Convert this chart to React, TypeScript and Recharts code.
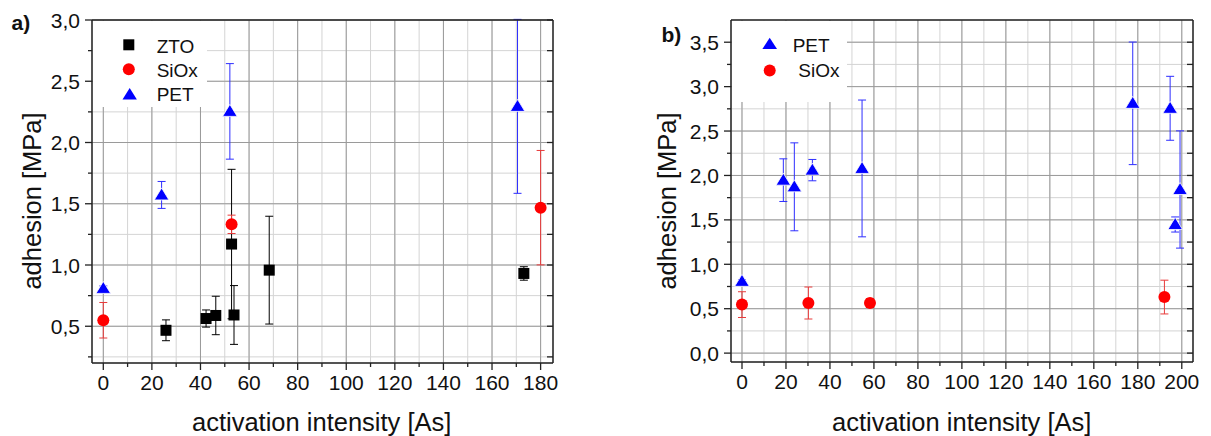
import React from "react";
import {
  ScatterChart,
  Scatter,
  XAxis,
  YAxis,
  CartesianGrid,
  ReferenceLine,
  ErrorBar,
} from "recharts";

const FONT = "'Liberation Sans', Arial, Helvetica, sans-serif";

// ---- panel a) values ----
const ztoX = [25.8, 42.3, 46.3, 52.8, 53.8, 68.3, 173.1];
const ztoY = [0.467, 0.563, 0.588, 1.171, 0.592, 0.958, 0.931];
const ztoErr = [0.085, 0.07, 0.157, 0.61, 0.24, 0.44, 0.055];

const siA_X = [0, 52.8, 180];
const siA_Y = [0.549, 1.332, 1.468];
const siA_Err = [0.145, 0.075, 0.467];

const petA_X = [0, 24.0, 52.1, 170.5];
const petA_Y = [0.809, 1.572, 2.254, 2.295];
const petA_Err = [0.02, 0.11, 0.39, 0.71];

// ---- panel b) ----
const petB_X = [0, 18.8, 23.8, 32.0, 54.6, 177.7, 194.7, 197.0, 199.2];
const petB_Y = [0.808, 1.947, 1.872, 2.06, 2.079, 2.812, 2.756, 1.448, 1.842];
const petB_Err = [0.02, 0.24, 0.495, 0.12, 0.77, 0.69, 0.36, 0.085, 0.66];

const siB_X = [0, 30.2, 58.2, 192.1];
const siB_Y = [0.546, 0.564, 0.564, 0.631];
const siB_Err = [0.145, 0.18, 0.05, 0.19];

// ticks
const xTicksA = [0, 10, 20, 30, 40, 50, 60, 70, 80, 90, 100, 110, 120, 130, 140, 150, 160, 170, 180];
const xMajorA = [0, 20, 40, 60, 80, 100, 120, 140, 160, 180];
const yTicksA = [0.25, 0.5, 0.75, 1.0, 1.25, 1.5, 1.75, 2.0, 2.25, 2.5, 2.75, 3.0];
const yMajorA = [0.5, 1.0, 1.5, 2.0, 2.5, 3.0];

const xTicksB = [0, 10, 20, 30, 40, 50, 60, 70, 80, 90, 100, 110, 120, 130, 140, 150, 160, 170, 180, 190, 200];
const xMajorB = [0, 20, 40, 60, 80, 100, 120, 140, 160, 180, 200];
const yTicksB = [0, 0.25, 0.5, 0.75, 1.0, 1.25, 1.5, 1.75, 2.0, 2.25, 2.5, 2.75, 3.0, 3.25, 3.5];
const yMajorB = [0, 0.5, 1.0, 1.5, 2.0, 2.5, 3.0, 3.5];

const zip = (xs: number[], ys: number[], es: number[]) =>
  xs.map((x, i) => ({ x, y: ys[i], err: es[i] }));

const AXIS = { stroke: "#222", strokeWidth: 1.5 };
const MINOR_GRID = "#d4d4d4";
const MAJOR_GRID = "#9a9a9a";

const isIn = (list: number[], v: number) => list.some((m) => Math.abs(m - v) < 1e-6);
const comma = (v: number) => v.toFixed(1).replace(".", ",");

function bottomTick(majors: number[]) {
  return (p: any) => {
    const v = p.payload.value;
    const major = isIn(majors, v);
    return (
      <g>
        <line x1={p.x} x2={p.x} y1={p.y} y2={p.y + (major ? 7 : 4)} stroke="#222" strokeWidth={1.3} />
        {major && (
          <text x={p.x} y={p.y + 27} textAnchor="middle" fontSize={21} fontFamily={FONT} fill="#111">
            {v}
          </text>
        )}
      </g>
    );
  };
}

function leftTick(majors: number[]) {
  return (p: any) => {
    const v = p.payload.value;
    const major = isIn(majors, v);
    return (
      <g>
        <line x1={p.x} x2={p.x - (major ? 7 : 4)} y1={p.y} y2={p.y} stroke="#222" strokeWidth={1.3} />
        {major && (
          <text x={p.x - 12} y={p.y + 7.5} textAnchor="end" fontSize={21} fontFamily={FONT} fill="#111">
            {comma(v)}
          </text>
        )}
      </g>
    );
  };
}

function topTick(majors: number[]) {
  return (p: any) => {
    const major = isIn(majors, p.payload.value);
    return <line x1={p.x} x2={p.x} y1={p.y} y2={p.y + (major ? 6 : 3)} stroke="#222" strokeWidth={1.3} />;
  };
}

const rightTick = (p: any) => (
  <line x1={p.x} x2={p.x - 6} y1={p.y} y2={p.y} stroke="#222" strokeWidth={1.3} />
);

const Square = (p: any) => <rect x={p.cx - 5.5} y={p.cy - 5.5} width={11} height={11} fill="#000" />;
const Dot = (p: any) => <circle cx={p.cx} cy={p.cy} r={6} fill="#ff0000" />;
const Tri = (p: any) => (
  <polygon
    points={`${p.cx},${p.cy - 7} ${p.cx + 7.3},${p.cy + 5} ${p.cx - 7.3},${p.cy + 5}`}
    fill="#0000ff"
    stroke="#fff"
    strokeWidth={0.8}
  />
);

function Frame({
  xDomain,
  yDomain,
  xTicks,
  xMajor,
  yTicks,
  yMajor,
}: {
  xDomain: [number, number];
  yDomain: [number, number];
  xTicks: number[];
  xMajor: number[];
  yTicks: number[];
  yMajor: number[];
}) {
  return null;
}

function axes(
  xDomain: [number, number],
  yDomain: [number, number],
  xTicks: number[],
  xMajor: number[],
  yTicks: number[],
  yMajor: number[],
) {
  return [
    <CartesianGrid key="grid" stroke={MINOR_GRID} strokeWidth={1} />,
    ...xMajor.map((v) => (
      <ReferenceLine key={"vx" + v} x={v} stroke={MAJOR_GRID} strokeWidth={1} />
    )),
    ...yMajor.map((v) => (
      <ReferenceLine key={"hy" + v} y={v} stroke={MAJOR_GRID} strokeWidth={1} />
    )),
    <XAxis
      key="xb"
      dataKey="x"
      type="number"
      domain={xDomain}
      ticks={xTicks}
      interval={0}
      allowDataOverflow
      height={40}
      axisLine={AXIS}
      tickLine={false}
      tickSize={0}
      tickMargin={0}
      tick={bottomTick(xMajor)}
    />,
    <XAxis
      key="xt"
      xAxisId="t"
      orientation="top"
      type="number"
      domain={xDomain}
      ticks={xTicks}
      interval={0}
      allowDataOverflow
      height={5}
      axisLine={AXIS}
      tickLine={false}
      tickSize={0}
      tickMargin={0}
      tick={topTick(xMajor)}
    />,
    <YAxis
      key="yl"
      dataKey="y"
      type="number"
      domain={yDomain}
      ticks={yTicks}
      interval={0}
      allowDataOverflow
      width={60}
      axisLine={AXIS}
      tickLine={false}
      tickSize={0}
      tickMargin={0}
      tick={leftTick(yMajor)}
    />,
    <YAxis
      key="yr"
      yAxisId="r"
      orientation="right"
      type="number"
      domain={yDomain}
      ticks={yTicks}
      interval={0}
      allowDataOverflow
      width={10}
      axisLine={AXIS}
      tickLine={false}
      tickSize={0}
      tickMargin={0}
      tick={rightTick}
    />,
  ];
}

function PanelA() {
  return (
    <ScatterChart width={600} height={436} margin={{ top: 15, right: 37, bottom: 33, left: 32 }}>
      {axes([-4.65, 185.1], [0.2, 3.0], xTicksA, xMajorA, yTicksA, yMajorA)}
      <Scatter name="ZTO" data={zip(ztoX, ztoY, ztoErr)} shape={Square} isAnimationActive={false}>
        <ErrorBar dataKey="err" direction="y" width={4} stroke="#000" strokeWidth={1} />
      </Scatter>
      <Scatter name="SiOx" data={zip(siA_X, siA_Y, siA_Err)} shape={Dot} isAnimationActive={false}>
        <ErrorBar dataKey="err" direction="y" width={4} stroke="#e83a3a" strokeWidth={1} />
      </Scatter>
      <Scatter name="PET" data={zip(petA_X, petA_Y, petA_Err)} shape={Tri} isAnimationActive={false}>
        <ErrorBar dataKey="err" direction="y" width={4} stroke="#2e2eff" strokeWidth={1} />
      </Scatter>
    </ScatterChart>
  );
}

function PanelB() {
  return (
    <ScatterChart width={591} height={436} margin={{ top: 15, right: 8, bottom: 34, left: 51 }}>
      {axes([-5, 205.1], [-0.1, 3.75], xTicksB, xMajorB, yTicksB, yMajorB)}
      <Scatter name="SiOx" data={zip(siB_X, siB_Y, siB_Err)} shape={Dot} isAnimationActive={false}>
        <ErrorBar dataKey="err" direction="y" width={4} stroke="#e83a3a" strokeWidth={1} />
      </Scatter>
      <Scatter name="PET" data={zip(petB_X, petB_Y, petB_Err)} shape={Tri} isAnimationActive={false}>
        <ErrorBar dataKey="err" direction="y" width={4} stroke="#2e2eff" strokeWidth={1} />
      </Scatter>
    </ScatterChart>
  );
}

const txt = { fontFamily: FONT, fill: "#111" };

function Overlay() {
  return (
    <svg width={1211} height={436} style={{ position: "absolute", left: 0, top: 0, pointerEvents: "none" }}>
      {/* legend a */}
      <rect x={93} y={21} width={114} height={86} fill="#fff" />
      <rect x={123.3} y={39.3} width={11} height={11} fill="#000" />
      <text x={156.7} y={52.7} fontSize={19} {...txt}>ZTO</text>
      <circle cx={128.8} cy={69.2} r={6} fill="#ff0000" />
      <text x={156.7} y={77.3} fontSize={19} {...txt}>SiOx</text>
      <polygon points="129.7,88 136.9,99.5 122.5,99.5" fill="#0000ff" />
      <text x={156.7} y={100.7} fontSize={19} {...txt}>PET</text>

      {/* legend b */}
      <rect x={732} y={21} width={115} height={81} fill="#fff" />
      <polygon points="769.7,37.8 777,49 762.4,49" fill="#0000ff" />
      <text x={792.7} y={52.3} fontSize={19} {...txt}>PET</text>
      <circle cx={769.7} cy={70.5} r={6} fill="#ff0000" />
      <text x={798.3} y={77.3} fontSize={19} {...txt}>SiOx</text>

      {/* panel letters */}
      <text x={11.5} y={29.5} fontSize={21} fontWeight="bold" {...txt}>a)</text>
      <text x={661.5} y={42} fontSize={21} fontWeight="bold" {...txt}>b)</text>

      {/* axis titles */}
      <text x={321.7} y={431} fontSize={25.5} textAnchor="middle" {...txt}>activation intensity [As]</text>
      <text x={961.7} y={431} fontSize={25.5} textAnchor="middle" {...txt}>activation intensity [As]</text>
      <text transform="translate(40.5,201) rotate(-90)" fontSize={25.5} textAnchor="middle" {...txt}>
        adhesion [MPa]
      </text>
      <text transform="translate(676,201) rotate(-90)" fontSize={25.5} textAnchor="middle" {...txt}>
        adhesion [MPa]
      </text>
    </svg>
  );
}

export default function App() {
  return (
    <div style={{ position: "absolute", left: 0, top: 0, width: 1211, height: 436, background: "#fff" }}>
      <div style={{ position: "absolute", left: 0, top: 0 }}>
        <PanelA />
      </div>
      <div style={{ position: "absolute", left: 620, top: 0 }}>
        <PanelB />
      </div>
      <Overlay />
    </div>
  );
}
